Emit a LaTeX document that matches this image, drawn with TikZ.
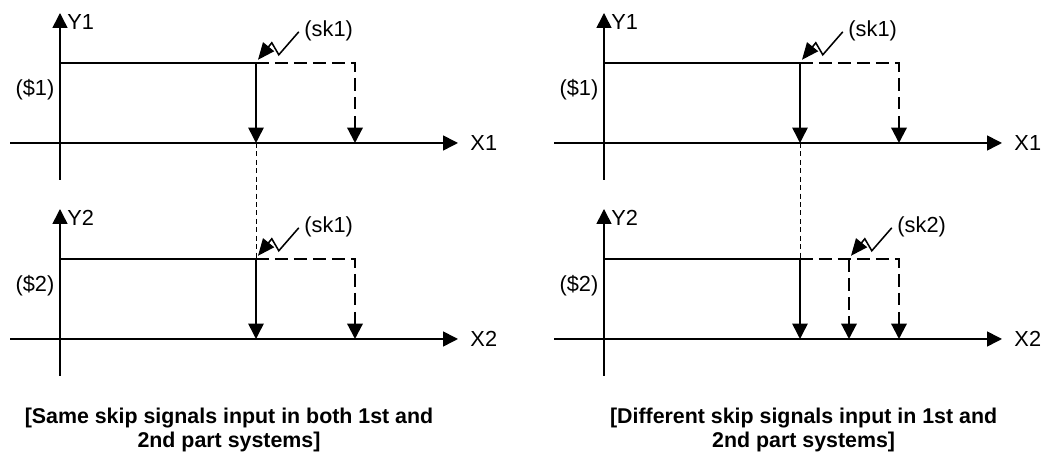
\documentclass[tikz,border=0pt]{standalone}
\usepackage{fontspec}
\setsansfont{Liberation Sans}
\usetikzlibrary{arrows.meta,calc}

\begin{document}
\begin{tikzpicture}[font=\sffamily\fontsize{15.5}{18}\selectfont,
  ax/.style={line width=1.1pt,-{Triangle[length=10.5pt,width=10.5pt]}},
  level/.style={line width=1.1pt},
  skipped/.style={line width=1.6pt,dash pattern=on 9pt off 4.5pt},
  drop/.style={-{Triangle[length=11pt,width=11pt]}},
  guide/.style={line width=0.7pt,dash pattern=on 3.5pt off 2.5pt},
  signal/.style={line width=1.1pt,-{Triangle[length=12pt,width=10pt]}},
  lab/.style={inner sep=1pt},
  caption/.style={align=center,font={\sffamily\bfseries\fontsize{15.2}{16.4}\selectfont}}]

\useasboundingbox (0,0) rectangle (26.025,11.35);

% four panels: top = 1st part system, bottom = 2nd part system
\foreach \p/\sx/\sy/\k/\sk/\off in {a/0/0/1/1/0, b/0/-4.9/2/1/0, c/13.6/0/1/1/0, d/13.6/-4.9/2/2/1.225}{
  \begin{scope}[shift={(\sx,\sy)}]
    \coordinate (o\p) at (1.5,7.775);
    \coordinate (ylo\p) at (1.5,6.85);
    \coordinate (yhi\p) at (1.5,11.025);
    \coordinate (xlo\p) at (0.25,7.775);
    \coordinate (xhi\p) at (11.45,7.775);
    \coordinate (lv\p) at (1.5,9.775);
    \coordinate (edge\p) at (6.4,9.775);
    \coordinate (edgeax\p) at (6.4,7.775);
    \coordinate (late\p) at (8.875,9.775);
    \coordinate (lateax\p) at (8.875,7.775);
    \coordinate (hit\p) at ($(edge\p)+(\off,0)+(0.05,0.08)$);

    \node[lab,anchor=west] (ylab\p) at (1.64,10.8) {Y\k};
    \node[lab,anchor=east] (pos\p) at (1.4,9.1) {(\$\k)};
    \node[lab,anchor=west] (xlab\p) at (11.72,7.775) {X\k};
    \node[lab,anchor=west] (sk\p) at ($(hit\p)+(1.12,0.72)$) {(sk\sk)};

    \draw[ax] (ylo\p) -- (yhi\p);
    \draw[ax] (xlo\p) -- (xhi\p);
    \draw[level,drop] (lv\p) -- (edge\p) -- (edgeax\p);
    \draw[skipped,drop] (edge\p) -- (late\p) -- (lateax\p);
    \draw[signal] ($(sk\p.west)+(-0.1,-0.02)$) -- ++(-0.5,-0.575) -- ++(-0.175,0.3) -- (hit\p);
  \end{scope}
}

% extra skip stop in the 2nd part system (right)
\coordinate (midd) at ($(edged)+(1.225,0)$);
\coordinate (midaxd) at ($(edgeaxd)+(1.225,0)$);
\draw[skipped,drop] (midd) -- (midaxd);

\draw[guide] (edgeaxa) -- (edgeb);
\draw[guide] (edgeaxc) -- (edged);

\node[caption] (capl) at (5.725,0.6) {[Same skip signals input in both 1st and\\2nd part systems]};
\node[caption] (capr) at (20.09,0.6) {[Different skip signals input in 1st and\\2nd part systems]};

\end{tikzpicture}
\end{document}
